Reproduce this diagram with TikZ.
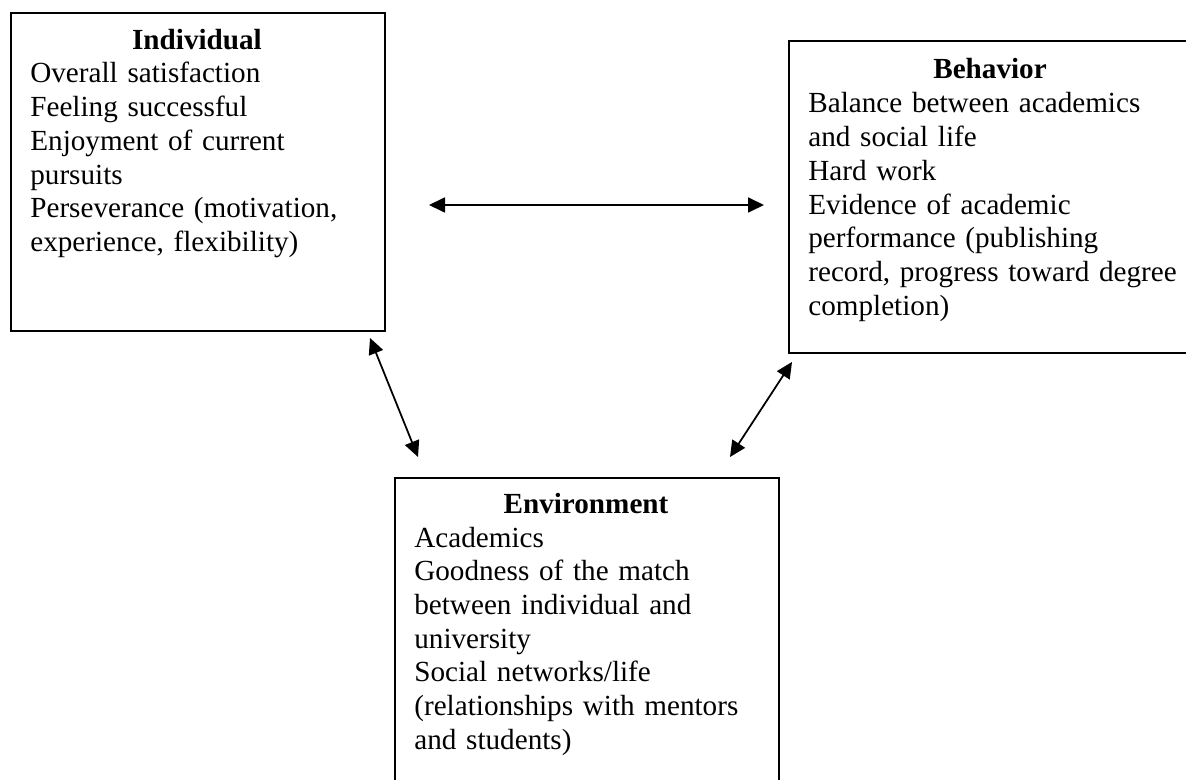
\documentclass[tikz,border=0pt]{standalone}
\usepackage{fontspec}
\setmainfont{Liberation Serif}
\usetikzlibrary{arrows.meta,positioning}
\newcommand{\FS}{\fontsize{16.6}{19.2}\selectfont}
\newcommand{\Tip}{Triangle[length=3.2mm, width=3mm]}

\begin{document}
\begin{tikzpicture}[
    x=0.02cm, y=-0.02cm,
    panel/.style={rectangle, draw=black, line width=1.1pt, inner sep=0pt, anchor=north west},
    head/.style={font=\FS\bfseries, inner sep=0pt, anchor=base},
    body/.style={font=\FS, align=left, inner sep=0pt, anchor=base west, text width=8cm},
    twoway/.style={{\Tip}-{\Tip}, line width=1pt},
  ]
  \useasboundingbox (0,0) rectangle (1186,780);
  \clip (0,0) rectangle (1186,780);

  %% ================= the three boxes =================
  \node[panel, minimum width=7.48cm, minimum height=6.36cm] (ind) at (10,12) {};
  \node[panel, minimum width=8.08cm, minimum height=6.24cm] (beh) at (788,40) {};
  \node[panel, minimum width=7.68cm, minimum height=6.60cm] (env) at (394,477) {};

  % titles, centred in their box
  \node[head] (indT) at (197,50)  {Individual};
  \node[head] (behT) at (990,79)  {Behavior};
  \node[head] (envT) at (586,513) {Environment};

  \node[body] (indB) at (30,83) {Overall satisfaction\\
    Feeling successful\\
    Enjoyment of current\\
    pursuits\\
    Perseverance (motivation,\\
    experience, flexibility)};

  \node[body] (behB) at (808,113) {Balance between academics\\
    and social life\\
    Hard work\\
    Evidence of academic\\
    performance (publishing\\
    record, progress toward degree\\
    completion)};

  \node[body] (envB) at (414,547) {Academics\\
    Goodness of the match\\
    between individual and\\
    university\\
    Social networks/life\\
    (relationships with mentors\\
    and students)};

  %% ================= the two-way arrows =================
  \coordinate (ib1) at (429,205);
  \coordinate (ib2) at (764,205);
  \coordinate (ie1) at (370,338);
  \coordinate (ie2) at (418,457);
  \coordinate (be1) at (792,362);
  \coordinate (be2) at (730,457);

  \draw[twoway] (ib1) -- (ib2);
  \draw[twoway] (ie1) -- (ie2);
  \draw[twoway] (be1) -- (be2);

\end{tikzpicture}
\end{document}
